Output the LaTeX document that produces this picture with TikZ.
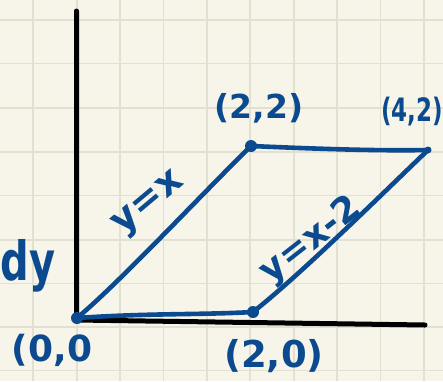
\documentclass[tikz,border=0pt]{standalone}
\usepackage{fontspec}
\setmainfont{DejaVu Sans}
\definecolor{paper}{HTML}{F7F5EA}
\definecolor{gridc}{HTML}{E2E0D1}
\definecolor{ink}{HTML}{0B4A8E}
\begin{document}
\begin{tikzpicture}[x=1pt,y=-1pt,
  axis/.style={line width=5pt,black,line cap=round},
  edge/.style={line width=4.6pt,ink,line cap=round,line join=round},
  vdot/.style={circle,fill=ink,inner sep=0pt,minimum size=12pt},
  lbl/.style={text=ink,inner sep=0pt}]
\fill[paper] (0,0) rectangle (443,381);
\useasboundingbox (0,0) rectangle (443,381);
\foreach \x in {33.3,76.7,120,163.4,206.8,250.2,293.6,337,380.4,423.8}
  \draw[gridc,line width=1.8pt] (\x,0) -- (\x,381);
\foreach \y in {20,63.5,108,152,195.5,240,283.5,327,370.5}
  \draw[gridc,line width=1.8pt] (0,\y) -- (443,\y);
% axes
\coordinate (ytop) at (76.5,11);
\coordinate (orig) at (76.5,320);
\coordinate (xend) at (425,325);
\draw[axis] (ytop) -- (orig) -- (xend);
% vertices
\node[vdot] (O) at (77,318) {};
\node[vdot] (A) at (253,312) {};
\node[vdot] (B) at (251,146) {};
\node[vdot,minimum size=7pt] (C) at (428,150) {};
\draw[edge] (O.center) .. controls (150,313) and (200,315) .. (A.center);
\draw[edge] (O.center) .. controls (120,282) and (200,196) .. (B.center);
\draw[edge] (B.center) .. controls (320,149) and (380,151) .. (C.center);
\draw[edge] (A.center) .. controls (300,275) and (380,196) .. (C.center);
% labels
\node[lbl,font=\bfseries\fontsize{33}{36}\selectfont] (lB) at (259,108) {(2,2)};
\node[lbl,font=\bfseries\fontsize{23}{26}\selectfont,yscale=1.4] (lC) at (412,112) {(4,2)};
\node[lbl,font=\bfseries\fontsize{36}{40}\selectfont] (lO) at (52,350) {(0,0};
\node[lbl,font=\bfseries\fontsize{37}{40}\selectfont] (lA) at (274,356) {(2,0)};
\node[lbl,font=\bfseries\fontsize{40}{44}\selectfont,yscale=1.35] (ldy) at (28,266) {dy};
\node[lbl,font=\bfseries\fontsize{38}{40}\selectfont,rotate=40] (lyx) at (150,205) {y=x};
\node[lbl,font=\bfseries\fontsize{36}{40}\selectfont,rotate=38] (lyx2) at (311,241) {y=x-2};
\end{tikzpicture}
\end{document}
